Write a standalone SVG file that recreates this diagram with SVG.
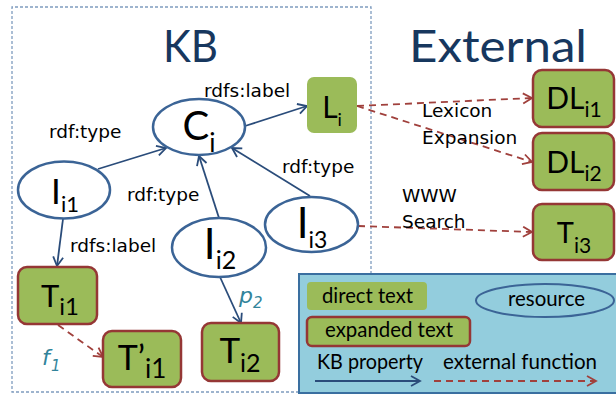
<svg xmlns="http://www.w3.org/2000/svg" width="616" height="394" viewBox="0 0 616 394">
<defs>
<style>
.ell{fill:#fff;stroke:#3B6496;stroke-width:2.5}
.dt{fill:#9BBB59}
.et{fill:#9BBB59;stroke:#953735;stroke-width:2.5}
.kb{fill:none;stroke:#2A4C7A;stroke-width:1.8;marker-end:url(#ab)}
.ex{fill:none;stroke:#A0403C;stroke-width:1.8;stroke-dasharray:7 5;marker-end:url(#ar)}
.lbl{font-family:"DejaVu Sans",sans-serif;font-size:18.5px;fill:#000}
.nt{font-family:Lato,"Liberation Sans",sans-serif;fill:#000;text-anchor:middle}
.ttl{font-family:Lato,"Liberation Sans",sans-serif;font-size:45px;fill:#17375E}
.lg{font-family:Lato,"Liberation Sans",sans-serif;font-size:21px;fill:#000}
.it{font-family:"DejaVu Sans",sans-serif;font-style:italic;fill:#31849B}
</style>
<marker id="ab" markerUnits="userSpaceOnUse" markerWidth="14" markerHeight="14" refX="10" refY="6" orient="auto"><path d="M1,1 L10,6 L1,11" fill="none" stroke="#2A4C7A" stroke-width="1.8"/></marker>
<marker id="ar" markerUnits="userSpaceOnUse" markerWidth="14" markerHeight="14" refX="10" refY="6" orient="auto"><path d="M1,1 L10,6 L1,11" fill="none" stroke="#A0403C" stroke-width="1.8"/></marker>
</defs>
<rect width="616" height="394" fill="#fff"/>
<path d="M371,274 V7 H12 V392 H299" fill="none" stroke="#7F9CBF" stroke-width="1.3" stroke-dasharray="3 2"/>
<text class="ttl" x="163" y="62" textLength="55" lengthAdjust="spacingAndGlyphs">KB</text>
<text class="ttl" x="409" y="62" textLength="178" lengthAdjust="spacingAndGlyphs">External</text>

<g id="connectors">
<line class="kb" x1="98" y1="169" x2="166" y2="148"/>
<line class="kb" x1="219" y1="218" x2="199" y2="156"/>
<line class="kb" x1="310" y1="196" x2="232" y2="148"/>
<line class="kb" x1="245" y1="126" x2="307" y2="106"/>
<line class="kb" x1="63" y1="219" x2="57" y2="266"/>
<line class="kb" x1="220" y1="277" x2="241" y2="323"/>
<line class="ex" x1="58" y1="325" x2="103" y2="357"/>
<line class="ex" x1="357" y1="106" x2="532" y2="98"/>
<line class="ex" x1="357" y1="106" x2="532" y2="162"/>
<line class="ex" x1="358" y1="226" x2="532" y2="232"/>
<text class="lbl" x="204" y="97">rdfs:label</text>
<text class="lbl" x="49" y="138">rdf:type</text>
<text class="lbl" x="282" y="173">rdf:type</text>
<text class="lbl" x="127" y="201">rdf:type</text>
<text class="lbl" x="70" y="252">rdfs:label</text>
<text class="lbl" x="422" y="117">Lexicon</text>
<text class="lbl" x="422" y="144">Expansion</text>
<text class="lbl" x="402" y="202">WWW</text>
<text class="lbl" x="402" y="228">Search</text>
<text class="it" x="239" y="303" font-size="22">p<tspan x="253" y="308" font-size="15">2</tspan></text>
<text class="it" x="42" y="365" font-size="22">f<tspan x="51" y="371" font-size="15">1</tspan></text>
</g>

<g id="Ci"><ellipse class="ell" cx="199" cy="127" rx="46" ry="28"/><text class="nt" x="199" y="140" font-size="40">C<tspan dy="12" font-size="26">i</tspan></text></g>
<g id="Li"><rect class="dt" x="307" y="77" width="50" height="56" rx="7"/><text class="nt" x="332" y="118" font-size="30">L<tspan dy="8" font-size="18">i</tspan></text></g>
<g id="Ii1"><ellipse class="ell" cx="64" cy="190" rx="46" ry="28.5"/><text class="nt" x="65" y="204" font-size="35">I<tspan dy="8" font-size="22">i1</tspan></text></g>
<g id="Ii2"><ellipse class="ell" cx="219" cy="247.5" rx="47" ry="29.5"/><text class="nt" x="220" y="259" font-size="42">I<tspan dy="10" font-size="25">i2</tspan></text></g>
<g id="Ii3"><ellipse class="ell" cx="311.5" cy="224.5" rx="46.5" ry="27.5"/><text class="nt" x="312" y="238" font-size="42">I<tspan dy="10" font-size="23">i3</tspan></text></g>
<g id="Ti1"><rect class="et" x="18" y="267" width="79" height="57" rx="9"/><text class="nt" x="60" y="307" font-size="31">T<tspan dy="8" font-size="24">i1</tspan></text></g>
<g id="Tpi1"><rect class="et" x="103" y="331" width="78" height="56" rx="9"/><text class="nt" x="142" y="370" font-size="34">T’<tspan dy="8" font-size="26">i1</tspan></text></g>
<g id="Ti2"><rect class="et" x="202" y="323" width="77" height="58" rx="9"/><text class="nt" x="240" y="363" font-size="35">T<tspan dy="9" font-size="25">i2</tspan></text></g>
<g id="DLi1"><rect class="et" x="533" y="70" width="81" height="57" rx="9"/><text class="nt" x="574" y="109" font-size="30">DL<tspan dy="8" font-size="21">i1</tspan></text></g>
<g id="DLi2"><rect class="et" x="533" y="133" width="81" height="57" rx="9"/><text class="nt" x="574" y="173" font-size="30">DL<tspan dy="8" font-size="21">i2</tspan></text></g>
<g id="Ti3"><rect class="et" x="533" y="204" width="81" height="56" rx="9"/><text class="nt" x="574" y="243" font-size="29">T<tspan dy="10" font-size="21">i3</tspan></text></g>

<g id="legend">
<rect x="299" y="274" width="322" height="119" fill="#93CDDD" stroke="#3A6FA0" stroke-width="2"/>
<rect class="dt" x="307" y="282" width="120" height="28" rx="4"/>
<text class="lg" x="322" y="303" textLength="91" lengthAdjust="spacingAndGlyphs">direct text</text>
<rect class="et" x="307" y="317" width="163" height="29" rx="5"/>
<text class="lg" x="325" y="337" textLength="128" lengthAdjust="spacingAndGlyphs">expanded text</text>
<ellipse cx="545" cy="300.5" rx="69" ry="16.5" fill="#93CDDD" stroke="#3B6496" stroke-width="2"/>
<text class="lg" x="508" y="306" textLength="77" lengthAdjust="spacingAndGlyphs">resource</text>
<text class="lg" x="317" y="369" textLength="106" lengthAdjust="spacingAndGlyphs">KB property</text>
<text class="lg" x="443" y="369" textLength="154" lengthAdjust="spacingAndGlyphs">external function</text>
<line class="kb" x1="315" y1="381" x2="420" y2="381"/>
<line class="ex" x1="434" y1="381" x2="596" y2="381"/>
</g>
</svg>
